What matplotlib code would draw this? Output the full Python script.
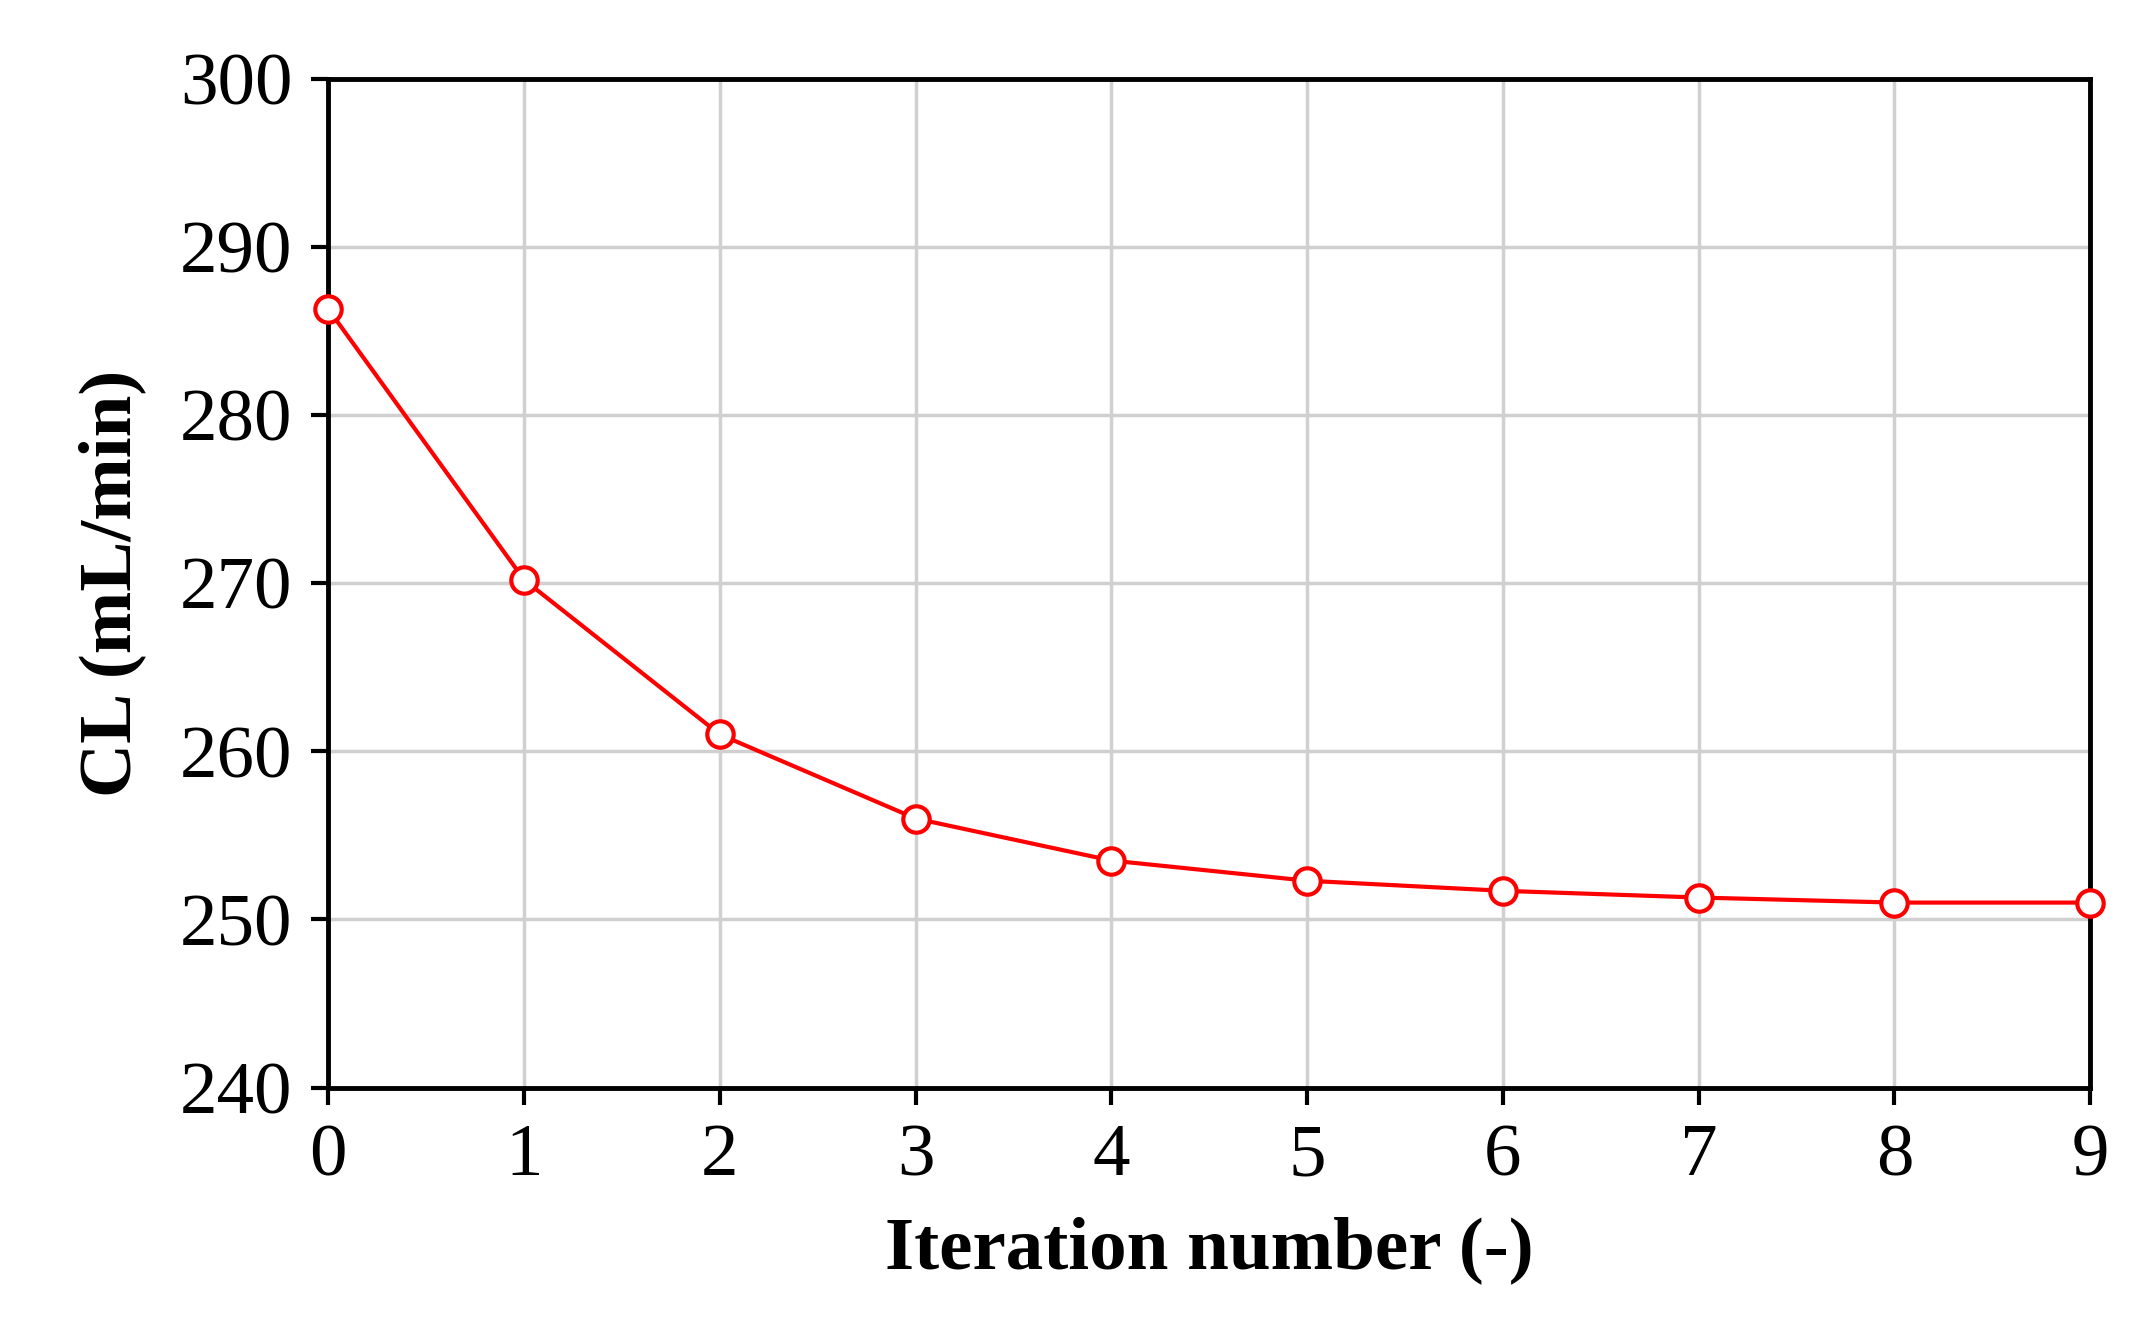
import matplotlib.pyplot as plt

iterations = [0, 1, 2, 3, 4, 5, 6, 7, 8, 9]
cl_values = [286.3, 270.2, 261.0, 256.0, 253.5, 252.3, 251.7, 251.3, 251.0, 251.0]

plt.rcParams['font.family'] = ['Liberation Serif', 'DejaVu Serif']

fig = plt.figure(figsize=(21.46, 13.36), dpi=100)
ax = fig.add_axes([0.153, 0.186, 0.821, 0.755])

ax.plot(iterations, cl_values, color='red', linewidth=3, marker='o',
        markersize=19, markerfacecolor='white', markeredgecolor='red',
        markeredgewidth=3, clip_on=False, zorder=3)

ax.set_xlim(0, 9)
ax.set_ylim(240, 300)
ax.set_xticks(range(0, 10))
ax.set_yticks(range(240, 301, 10))
ax.grid(True, color='#d0d0d0', linewidth=2.5)
ax.set_axisbelow(True)
for s in ax.spines.values():
    s.set_linewidth(3.5)
ax.tick_params(labelsize=54, width=3, length=12, direction='out', pad=14)

ax.set_xlabel('Iteration number (-)', fontsize=54, fontweight='bold', labelpad=18)
ax.set_ylabel('CL (mL/min)', fontsize=54, fontweight='bold', labelpad=24)

fig.savefig('out.png', dpi=100)
